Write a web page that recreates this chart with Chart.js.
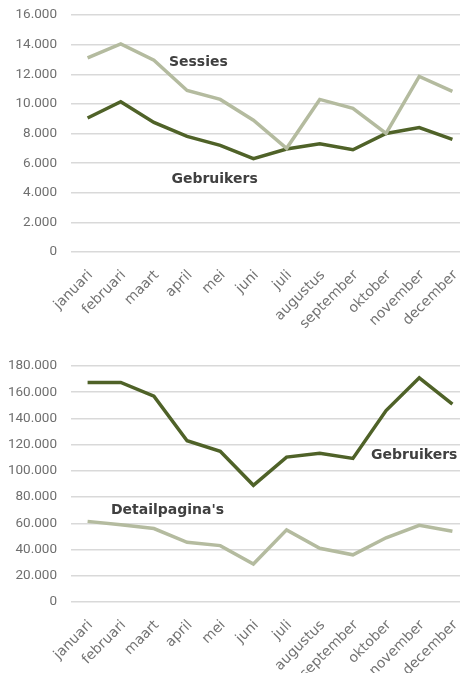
<!DOCTYPE html>
<html>
<head>
    <title>Sessies en gebruikers per maand</title>
    <script src="https://cdn.jsdelivr.net/npm/chart.js"></script>
    <style>
        body { margin: 0; width: 460px; height: 673px; overflow: hidden; background: #fff; position: relative; }
        .box { position: absolute; left: 0; width: 470px; }
    </style>
</head>
<body>
    <div class="box" style="top: 0; height: 335px;"><canvas id="chartTop"></canvas></div>
    <div class="box" style="top: 340px; height: 333px;"><canvas id="chartBottom"></canvas></div>
    <script>
        // maanden
        const maanden = ["januari", "februari", "maart", "april", "mei", "juni", "juli",
            "augustus", "september", "oktober", "november", "december"];

        // bovenste grafiek
        const sessies = [13100, 14050, 12950, 10900, 10300, 8900, 7000, 10300, 9700, 8000, 11850, 10850];
        const gebruikersTop = [9050, 10150, 8750, 7800, 7200, 6300, 6950, 7300, 6900, 8000, 8400, 7600];

        // onderste grafiek
        const gebruikersBottom = [167500, 167500, 157000, 123000, 115000, 89000, 110500, 113500, 109500, 146000, 171000, 151000];
        const detailpaginas = [61500, 59000, 56000, 45500, 43000, 29000, 55000, 41000, 36000, 49000, 58500, 54000];

        // labels bij de lijnen: [tekst, maand-index, waarde]
        const labelsTop = [["Sessies", 3.34, 12800], ["Gebruikers", 3.83, 4930]];
        const labelsBottom = [["Gebruikers", 9.85, 111500], ["Detailpagina's", 2.41, 69700]];

        const donker = "#4f6228";
        const licht = "#b4bb9f";

        const fmt = (v) => v.toLocaleString("nl-NL");

        // tekst bij de lijnen tekenen
        const lineLabels = {
            id: "lineLabels",
            afterDatasetsDraw(chart, args, opts) {
                const ctx = chart.ctx;
                ctx.save();
                ctx.font = "bold 14px 'DejaVu Sans'";
                ctx.fillStyle = "#404040";
                ctx.textAlign = "center";
                ctx.textBaseline = "middle";
                opts.items.forEach(([tekst, i, v]) => {
                    ctx.fillText(tekst, chart.scales.x.getPixelForValue(i), chart.scales.y.getPixelForValue(v));
                });
                ctx.restore();
            },
        };

        function maakGrafiek(id, reeksen, max, stap, labels, padTop, xHoogte) {
            return new Chart(document.getElementById(id), {
                type: "line",
                data: {
                    labels: maanden,
                    datasets: reeksen.map(([data, kleur]) => ({
                        data: data,
                        borderColor: kleur,
                        borderWidth: 3.5,
                        pointRadius: 0,
                        tension: 0,
                        fill: false,
                    })),
                },
                plugins: [lineLabels],
                options: {
                    responsive: true,
                    maintainAspectRatio: false,
                    animation: false,
                    layout: { padding: { top: padTop, right: 1, left: 0, bottom: 0 } },
                    plugins: {
                        legend: { display: false },
                        tooltip: { enabled: false },
                        lineLabels: { items: labels },
                    },
                    scales: {
                        x: {
                            offset: true,
                            grid: { display: false },
                            border: { display: false },
                            ticks: {
                                color: "#737373",
                                font: { family: "DejaVu Sans", size: 14 },
                                minRotation: 45,
                                maxRotation: 45,
                                autoSkip: false,
                                padding: 7,
                                labelOffset: 3,
                            },
                            afterFit: (s) => {
                                s.height = xHoogte;
                                s.paddingLeft = 0;
                                s.paddingRight = 0;
                            },
                        },
                        y: {
                            min: 0,
                            max: max,
                            grid: { color: "#d9d9d9", lineWidth: 1.5, drawTicks: false },
                            border: { display: false },
                            ticks: {
                                stepSize: stap,
                                color: "#6f6f6f",
                                font: { family: "Roboto", size: 13.5 },
                                padding: 14,
                                callback: (v) => fmt(v),
                            },
                            afterFit: (s) => {
                                s.width = 71;
                                s.paddingTop = 0;
                                s.paddingBottom = 0;
                            },
                        },
                    },
                },
            });
        }

        maakGrafiek("chartTop", [[sessies, licht], [gebruikersTop, donker]], 16000, 2000, labelsTop, 15, 83);
        maakGrafiek("chartBottom", [[detailpaginas, licht], [gebruikersBottom, donker]], 180000, 20000, labelsBottom, 26, 71);
    </script>
</body>
</html>
